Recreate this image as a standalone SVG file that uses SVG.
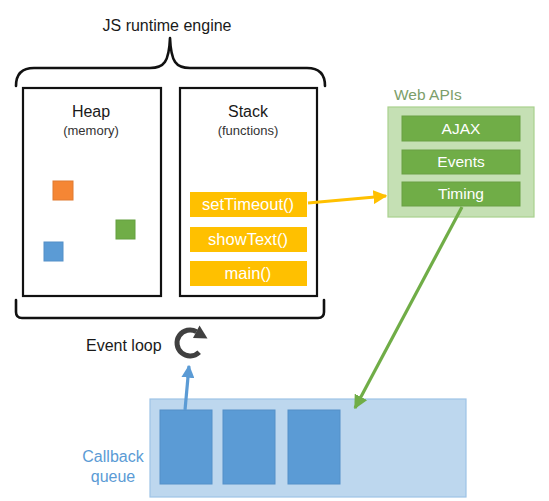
<svg xmlns="http://www.w3.org/2000/svg" width="549" height="501" viewBox="0 0 549 501">
<style>
text{font-family:"Liberation Sans",Arial,sans-serif}
.lbl{font-size:16px;fill:#1a1a1a;text-anchor:middle}
.sub{font-size:13px;fill:#333;text-anchor:middle}
.box{fill:#fff;stroke:#111;stroke-width:2.2}
.brace{fill:none;stroke:#111;stroke-width:2.6;stroke-linecap:round;stroke-linejoin:round}
.fn{fill:#FFC000}
.fnt{font-size:16.5px;fill:#fff;text-anchor:middle}
.api{fill:#70AD47;stroke:#6a9f45;stroke-width:1}
.apit{font-size:15.5px;fill:#fff;text-anchor:middle}
.cb{fill:#5B9BD5;stroke:#5590c8;stroke-width:1}
</style>
<defs>
<marker id="ay" viewBox="0 0 10 10" refX="9" refY="5" markerWidth="14" markerHeight="14" markerUnits="userSpaceOnUse" orient="auto"><path d="M0,0 L10,5 L0,10 z" fill="#FFC000"/></marker>
<marker id="ag" viewBox="0 0 10 10" refX="9" refY="5" markerWidth="14" markerHeight="14" markerUnits="userSpaceOnUse" orient="auto"><path d="M0,0 L10,5 L0,10 z" fill="#70AD47"/></marker>
<marker id="ab" viewBox="0 0 10 10" refX="9" refY="5" markerWidth="13" markerHeight="13" markerUnits="userSpaceOnUse" orient="auto"><path d="M0,0 L10,5 L0,10 z" fill="#5B9BD5"/></marker>
</defs>
<rect width="549" height="501" fill="#fff"/>

<g id="engine">
<text class="lbl" x="167" y="31">JS runtime engine</text>
<path class="brace" d="M16,86 Q16,68 34,68 L150,68 C164,68 169,62 170,38 C171,62 176,68 190,68 L307,68 Q325,68 325,86"/>
<path class="brace" d="M16,300 L16,312 Q16,318 22,318 L318,318 Q324,318 324,312 L324,300"/>
</g>

<g id="heap">
<rect class="box" x="23" y="88" width="138" height="208"/>
<text class="lbl" x="91" y="117">Heap</text>
<text class="sub" x="91" y="135">(memory)</text>
<rect x="53" y="181" width="20" height="19" fill="#F58634" stroke="#e07a30"/>
<rect x="116" y="220" width="19" height="19" fill="#70AD47" stroke="#64a040"/>
<rect x="44" y="242" width="19" height="19" fill="#5B9BD5" stroke="#5590c8"/>
</g>

<g id="stack">
<rect class="box" x="180" y="88" width="137" height="208"/>
<text class="lbl" x="248" y="117">Stack</text>
<text class="sub" x="248" y="135">(functions)</text>
<g id="setTimeout"><rect class="fn" x="190" y="192" width="117" height="25"/><text class="fnt" x="248" y="210">setTimeout()</text></g>
<g id="showText"><rect class="fn" x="190" y="227" width="117" height="25"/><text class="fnt" x="248" y="245">showText()</text></g>
<g id="main"><rect class="fn" x="190" y="261" width="117" height="25"/><text class="fnt" x="248" y="279">main()</text></g>
</g>

<g id="webapis">
<text x="394" y="100" style="font-size:15.5px;fill:#7C9E6A">Web APIs</text>
<rect x="388" y="107" width="146" height="110" fill="#C5E0B4" stroke="#A9D18E" stroke-width="1.2"/>
<g id="ajax"><rect class="api" x="402" y="116" width="118" height="25"/><text class="apit" x="461" y="134">AJAX</text></g>
<g id="events"><rect class="api" x="402" y="150" width="118" height="24"/><text class="apit" x="461" y="167">Events</text></g>
<g id="timing"><rect class="api" x="402" y="182" width="118" height="24"/><text class="apit" x="461" y="199">Timing</text></g>
</g>

<g id="eventloop">
<text x="86" y="351" style="font-size:16px;fill:#1a1a1a">Event loop</text>
<path d="M196.5,331.7 A13,13 0 1 0 199.2,352.2" fill="none" stroke="#404040" stroke-width="5"/>
<path d="M199.5,325.5 L193,338 L207.5,338.5 z" fill="#404040"/>
</g>

<g id="callbackqueue">
<text x="113" y="462" style="font-size:16px;fill:#5B9BD5;text-anchor:middle">Callback</text>
<text x="113" y="482" style="font-size:16px;fill:#5B9BD5;text-anchor:middle">queue</text>
<rect x="150" y="399" width="316" height="98" fill="#BDD7EE" stroke="#9DC3E6" stroke-width="1.2"/>
<rect class="cb" x="160" y="410" width="52" height="74"/>
<rect class="cb" x="223" y="410" width="52" height="74"/>
<rect class="cb" x="288" y="410" width="52" height="74"/>
</g>

<g id="connectors">
<line x1="308" y1="203" x2="386" y2="196" stroke="#FFC000" stroke-width="3.2" marker-end="url(#ay)"/>
<line x1="462" y1="207" x2="355" y2="408" stroke="#70AD47" stroke-width="3.2" marker-end="url(#ag)"/>
<line x1="185" y1="410" x2="189" y2="366" stroke="#5B9BD5" stroke-width="3.2" marker-end="url(#ab)"/>
</g>
</svg>
